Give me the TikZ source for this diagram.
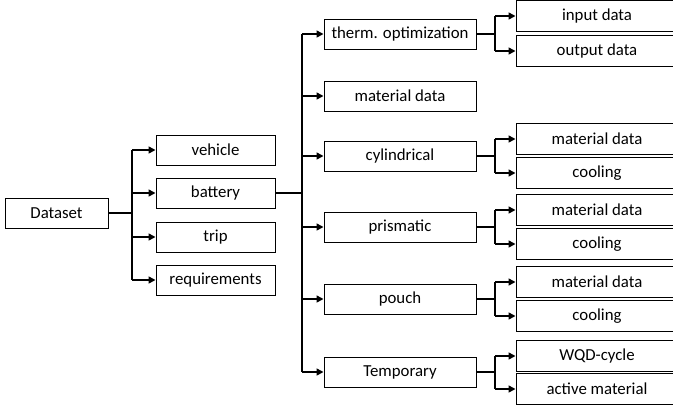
\documentclass[tikz,border=0pt]{standalone}
\usepackage{fontspec}
\setmainfont{Carlito}
\usetikzlibrary{arrows.meta}
\begin{document}
\begin{tikzpicture}[x=1pt,y=-1pt,
  box/.style={draw=black,line width=1pt,inner sep=0pt,minimum height=30pt,font=\fontsize{16.8}{20}\selectfont},
  lone/.style={box,minimum width=119pt},
  ltwo/.style={box,minimum width=152pt},
  lthree/.style={box,minimum width=162pt,minimum height=31pt},
  conn/.style={line width=2.2pt},
  arr/.style={line width=1.6pt,-{Triangle[length=7pt,width=7pt]}}]
\useasboundingbox (0,0) rectangle (673,410);
\clip (0,0) rectangle (673,410);
% level 0
\node[box,minimum width=103pt] (ds) at (56.5,213) {Dataset\hspace{10pt}};
% level 1
\node[lone] (veh) at (215.5,150) {vehicle};
\node[lone] (bat) at (215.5,193) {battery};
\node[lone] (trip) at (215.5,237) {trip};
\node[lone] (req) at (215.5,280) {requirements};
% level 2
\node[ltwo] (therm) at (400,34) {therm. optimization};
\node[ltwo] (mat) at (400,96) {material data};
\node[ltwo] (cyl) at (400,156) {cylindrical};
\node[ltwo] (pri) at (400,227) {prismatic};
\node[ltwo] (pou) at (400,299) {pouch};
\node[ltwo] (tmp) at (400,372) {Temporary};
% level 3
\node[lthree] (inp) at (597,16) {input data\hspace{24pt}};
\node[lthree] (out) at (597,51) {output data\hspace{24pt}};
\node[lthree] (cmat) at (597,139) {material data};
\node[lthree] (ccool) at (597,173) {cooling};
\node[lthree] (pmat) at (597,210) {material data};
\node[lthree] (pcool) at (597,244) {cooling};
\node[lthree] (umat) at (597,282) {material data};
\node[lthree] (ucool) at (597,316) {cooling};
\node[lthree] (twqd) at (597,356) {WQD-cycle\hspace{8pt}};
\node[lthree] (tact) at (597,389) {active material};
% junctions
\coordinate (j0) at (132,213);
\coordinate (j1) at (302,193);
% level 0 -> 1
\draw[conn] (ds.east) -- (j0);
\draw[conn] (j0 |- veh.west) -- (j0 |- req.west);
\foreach \n in {veh,bat,trip,req} \draw[arr] (j0 |- \n.west) -- (\n.west);
% level 1 -> 2
\draw[conn] (bat.east) -- (j1);
\draw[conn] (j1 |- therm.west) -- (j1 |- tmp.west);
\foreach \n in {therm,mat,cyl,pri,pou,tmp} \draw[arr] (j1 |- \n.west) -- (\n.west);
% level 2 -> 3
\foreach \p/\a/\b in {therm/inp/out,cyl/cmat/ccool,pri/pmat/pcool,pou/umat/ucool,tmp/twqd/tact}{
  \coordinate (k\p) at (495,0);
  \draw[conn] (\p.east) -- (k\p |- \p.east);
  \draw[conn] (k\p |- \a.west) -- (k\p |- \b.west);
  \draw[arr] (k\p |- \a.west) -- (\a.west);
  \draw[arr] (k\p |- \b.west) -- (\b.west);
}
\end{tikzpicture}
\end{document}
